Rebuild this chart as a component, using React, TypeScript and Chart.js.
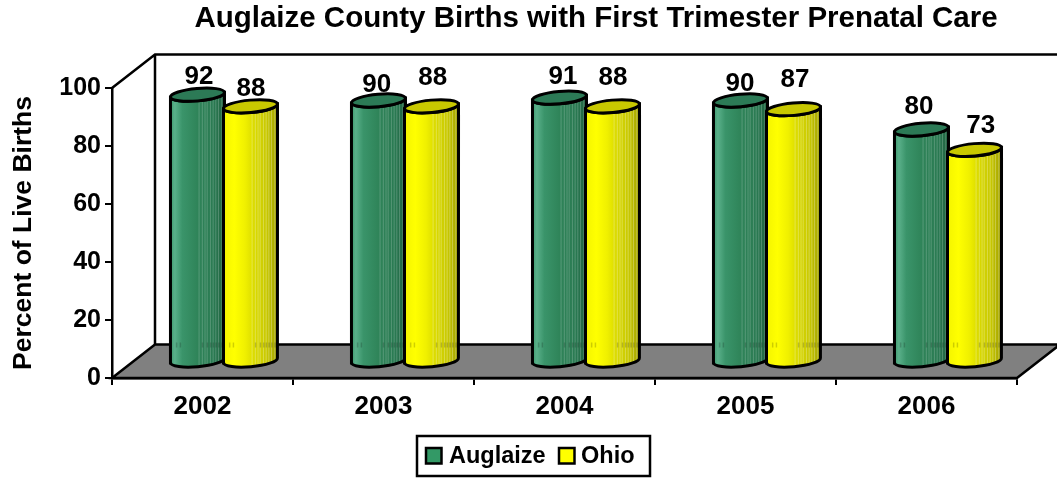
import React, { useEffect, useRef } from "react";
import { Chart, registerables } from "chart.js";

Chart.register(...registerables);

const FONT = "'Liberation Sans', Arial, sans-serif";
const categories = ["2002", "2003", "2004", "2005", "2006"];
const auglaize = [92, 90, 91, 90, 80];
const ohio = [88, 88, 88, 87, 73];
const seriesNames = ["Auglaize", "Ohio"];
const titleText = "Auglaize County Births with First Trimester Prenatal Care";
const yTitle = "Percent of Live Births";

const DEPTH_X = 43;
const DEPTH_Y = 33.5;
const RY = 6.2;
const TILT = -0.09;

// hand-placed value labels in the original: pixel nudges from each bar's top
const labelNudgeX = [
  [1.5, -1.8, 3.5, -0.5, -2.5],
  [0.5, 1.2, 0.5, 1.5, 6.2],
];
const labelNudgeY = [
  [-27.2, -24.7, -29.8, -26, -31.7],
  [-27.2, -37.8, -37.8, -39, -33],
];

const looks = [
  {
    swatch: "#339966",
    top: "#2c7a56",
    stops: [[0, "#3f9a6e"], [0.08, "#5ab08a"], [0.22, "#3a946a"], [0.5, "#2f8459"], [0.8, "#2a7a52"], [1, "#216341"]],
    stripe: "rgba(255,255,255,0.2)",
  },
  {
    swatch: "#ffff00",
    top: "#c8c800",
    stops: [[0, "#f4f400"], [0.2, "#ffff00"], [0.4, "#f0f000"], [0.55, "#dcdc00"], [0.8, "#c8c800"], [1, "#a0a000"]],
    stripe: "rgba(255,255,255,0.28)",
  },
];
const stripeFractions = [0.52, 0.58, 0.63, 0.67, 0.73, 0.78, 0.83, 0.88, 0.94];
const floorMarkFractions = [0.1, 0.17, 0.58, 0.67, 0.73, 0.78, 0.83, 0.88, 0.94];

const scene = {
  id: "scene",
  afterLayout(chart: any) {
    chart.titleBlock.left = 135;
    chart.titleBlock.right = 1057;
  },
  beforeDatasetsDraw(chart: any) {
    const { ctx, chartArea: a } = chart;
    const bx = a.left + DEPTH_X;
    const by = a.bottom - DEPTH_Y;
    const ty = a.top - DEPTH_Y;
    ctx.save();
    ctx.strokeStyle = "#000";
    ctx.lineWidth = 2.5;
    ctx.beginPath();
    ctx.moveTo(a.left, a.top);
    ctx.lineTo(bx, ty);
    ctx.lineTo(chart.width, ty);
    ctx.moveTo(bx, ty);
    ctx.lineTo(bx, by);
    ctx.stroke();
    ctx.beginPath();
    ctx.moveTo(a.left, a.bottom);
    ctx.lineTo(bx, by);
    ctx.lineTo(a.right + DEPTH_X, by);
    ctx.lineTo(a.right, a.bottom);
    ctx.closePath();
    ctx.fillStyle = "#808080";
    ctx.fill();
    ctx.stroke();
    ctx.restore();
  },
  afterDatasetsDraw(chart: any) {
    const { ctx, chartArea: a } = chart;
    const floorBack = a.bottom - DEPTH_Y;
    // cylinders
    categories.forEach((_, i) => {
      [0, 1].forEach((s) => {
        const el = chart.getDatasetMeta(s).data[i];
        const cx = el.x + DEPTH_X / 2;
        const w = el.width + 1;
        const rx = w / 2;
        const left = cx - rx;
        const lift = rx * Math.sin(-TILT);
        const topY = el.y - 16.5;
        const baseY = el.base - 16.5;
        const look = looks[s];
        const body = () => {
          ctx.beginPath();
          ctx.moveTo(left, topY + lift);
          ctx.lineTo(left, baseY + lift);
          ctx.ellipse(cx, baseY, rx, RY, TILT, Math.PI, 0, true);
          ctx.lineTo(left + w, topY - lift);
          ctx.ellipse(cx, topY, rx, RY, TILT, 0, Math.PI, false);
          ctx.closePath();
        };
        ctx.save();
        const g = ctx.createLinearGradient(left, 0, left + w, 0);
        look.stops.forEach(([p, c]: any) => g.addColorStop(p, c));
        body();
        ctx.fillStyle = g;
        ctx.fill();
        ctx.clip();
        ctx.fillStyle = look.stripe;
        stripeFractions.forEach((f) => ctx.fillRect(left + f * w, topY - RY, 1, baseY - topY + 2 * RY));
        ctx.fillStyle = "rgba(0,0,0,0.18)";
        floorMarkFractions.forEach((f) => ctx.fillRect(left + f * w, floorBack - 2, 1.5, 5));
        ctx.restore();
        ctx.save();
        ctx.strokeStyle = "#000";
        ctx.lineWidth = 3;
        body();
        ctx.stroke();
        ctx.beginPath();
        ctx.ellipse(cx, topY, rx, RY, TILT, 0, Math.PI * 2);
        ctx.fillStyle = look.top;
        ctx.fill();
        ctx.stroke();
        ctx.restore();
      });
    });
    // value labels
    ctx.save();
    ctx.fillStyle = "#000";
    ctx.font = `bold 26px ${FONT}`;
    ctx.textAlign = "center";
    ctx.textBaseline = "alphabetic";
    chart.data.datasets.forEach((ds: any, s: number) => {
      ds.data.forEach((v: number, i: number) => {
        const el = chart.getDatasetMeta(s).data[i];
        ctx.fillText(String(v), el.x + DEPTH_X / 2 + labelNudgeX[s][i], el.y + labelNudgeY[s][i]);
      });
    });
    ctx.restore();
    // legend
    ctx.save();
    ctx.strokeStyle = "#000";
    ctx.lineWidth = 2.5;
    ctx.fillStyle = "#fff";
    ctx.fillRect(417, 436, 233, 40);
    ctx.strokeRect(417, 436, 233, 40);
    ctx.font = `bold 23.5px ${FONT}`;
    ctx.textAlign = "left";
    ctx.textBaseline = "middle";
    const boxes = [426, 559];
    const texts = [449, 581];
    seriesNames.forEach((n, s) => {
      ctx.fillStyle = looks[s].swatch;
      ctx.fillRect(boxes[s], 448, 15.5, 15.5);
      ctx.strokeRect(boxes[s], 448, 15.5, 15.5);
      ctx.fillStyle = "#000";
      ctx.fillText(n, texts[s], 456.5);
    });
    ctx.restore();
  },
};

export default function App() {
  const ref = useRef<HTMLCanvasElement>(null);
  useEffect(() => {
    const chart = new Chart(ref.current!, {
      type: "bar",
      data: {
        labels: categories,
        datasets: [
          { label: seriesNames[0], data: auglaize, backgroundColor: "transparent", borderWidth: 0 },
          { label: seriesNames[1], data: ohio, backgroundColor: "transparent", borderWidth: 0 },
        ],
      },
      plugins: [scene],
      options: {
        responsive: false,
        animation: false,
        devicePixelRatio: 1,
        layout: { padding: { left: 0, right: 40, top: 0, bottom: 51 } },
        datasets: { bar: { barPercentage: 1, categoryPercentage: 0.586 } },
        plugins: {
          legend: { display: false },
          tooltip: { enabled: false },
          title: {
            display: true,
            text: titleText,
            color: "#000",
            font: { family: FONT, size: 29.5, weight: "bold" },
            padding: { top: 1, bottom: 51.6 },
          },
        },
        scales: {
          x: {
            afterFit: (s: any) => { s.height = 50; },
            grid: { drawOnChartArea: false, drawTicks: true, tickLength: 7, color: "#000", lineWidth: 2 },
            border: { display: true, color: "#000", width: 2.5 },
            ticks: { color: "#000", font: { family: FONT, size: 26, weight: "bold" }, padding: 6, maxRotation: 0 },
          },
          y: {
            min: 0,
            max: 100,
            afterFit: (s: any) => { s.width = 112; },
            grid: { drawOnChartArea: false, drawTicks: true, tickLength: 7, color: "#000", lineWidth: 2 },
            border: { display: true, color: "#000", width: 2.5 },
            ticks: { stepSize: 20, color: "#000", font: { family: FONT, size: 25, weight: "bold" }, padding: 4 },
            title: {
              display: true,
              text: yTitle,
              color: "#000",
              font: { family: FONT, size: 26.5, weight: "bold" },
              padding: { top: 8, bottom: 0 },
            },
          },
        },
      },
    });
    return () => chart.destroy();
  }, []);
  return (
    <div style={{ position: "fixed", left: 0, top: 0, width: 1057, height: 479, background: "#fff" }}>
      <canvas ref={ref} width={1057} height={479} style={{ display: "block" }} />
    </div>
  );
}
